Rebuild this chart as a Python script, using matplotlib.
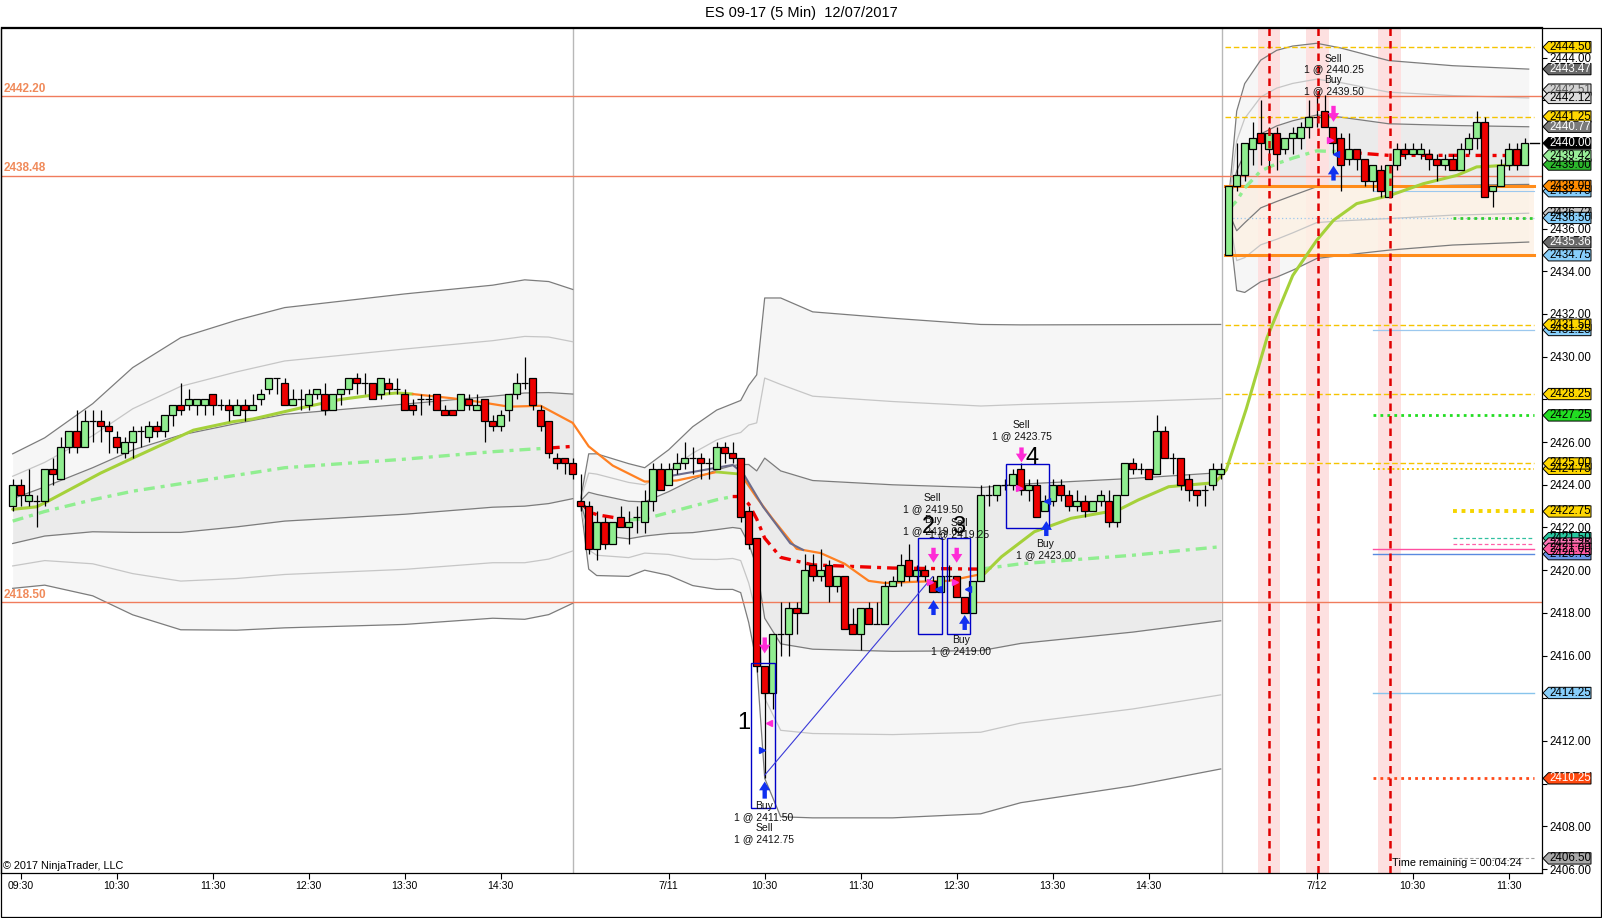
import numpy as np
import matplotlib.pyplot as plt
from matplotlib.patches import Polygon, Rectangle

plt.rcParams['font.family'] = ['Liberation Sans', 'DejaVu Sans']

# ---------------- data (5 min bars, 3 sessions) ----------------
opens = [
    # 7/10
    2423.0, 2424.0, 2423.25, 2423.25, 2423.25, 2424.75, 2424.25, 2425.75, 2426.5, 2425.75,
    2427.0, 2427.0, 2426.75, 2426.25, 2425.5, 2426.0, 2426.5, 2426.25, 2426.75, 2426.5,
    2427.25, 2427.75, 2427.75, 2427.75, 2427.75, 2428.25, 2427.75, 2427.75, 2427.25, 2427.75,
    2427.5, 2428.0, 2428.5, 2429.0, 2428.75, 2427.75, 2428.0, 2427.75, 2428.25, 2428.25,
    2427.5, 2428.25, 2428.5, 2429.0, 2428.75, 2428.75, 2428.25, 2428.75, 2428.5, 2428.25,
    2427.75, 2428.0, 2428.0, 2428.25, 2427.5, 2427.5, 2427.5, 2428.0, 2427.5, 2428.0,
    2427.0, 2426.75, 2427.5, 2428.25, 2428.75, 2429.0, 2427.5, 2427.0, 2425.25, 2425.25, 2425.0,
    # 7/11
    2423.25, 2423.0, 2421.0, 2422.25, 2421.25, 2422.5, 2422.0, 2422.5, 2422.25, 2423.25,
    2424.75, 2424.0, 2424.75, 2425.0, 2425.25, 2425.25, 2425.0, 2424.75, 2425.75, 2425.5,
    2425.25, 2422.75, 2421.5, 2415.5, 2414.25, 2417.0, 2417.0, 2418.25, 2418.0, 2420.25,
    2419.75, 2420.25, 2419.25, 2419.75, 2417.5, 2417.0, 2418.25, 2417.5, 2417.5, 2419.25,
    2419.5, 2420.5, 2419.75, 2420.0, 2419.5, 2419.0, 2419.75, 2419.75, 2418.75, 2418.0,
    2419.5, 2423.5, 2423.5, 2424.0, 2424.0, 2424.75, 2423.75, 2424.0, 2422.75, 2423.25,
    2424.0, 2423.5, 2423.0, 2423.25, 2422.75, 2423.25, 2423.25, 2422.25, 2423.5, 2425.0,
    2424.75, 2424.75, 2424.5, 2426.5, 2425.25, 2425.25, 2424.25, 2423.75, 2423.75, 2424.0, 2424.5,
    # 7/12
    2434.75, 2438.0, 2438.5, 2439.75, 2440.5, 2439.75, 2440.5, 2439.75, 2440.25, 2440.25,
    2440.75, 2441.25, 2441.5, 2440.75, 2440.25, 2439.25, 2439.75, 2439.25, 2438.25, 2438.75,
    2437.5, 2439.0, 2439.75, 2439.5, 2439.5, 2439.5, 2439.25, 2439.0, 2439.25, 2438.75,
    2439.75, 2440.25, 2441.0, 2437.75, 2438.0, 2439.0, 2439.75, 2439.0,
]
highs = [
    2424.25, 2424.25, 2424.75, 2423.5, 2424.75, 2425.25, 2426.25, 2426.5, 2427.5, 2427.5,
    2427.5, 2427.5, 2427.0, 2426.5, 2426.25, 2426.75, 2426.75, 2427.0, 2427.0, 2427.25,
    2427.75, 2428.75, 2428.5, 2428.0, 2428.0, 2428.25, 2428.0, 2428.0, 2428.0, 2428.0,
    2428.25, 2428.5, 2429.0, 2429.0, 2429.0, 2428.5, 2428.5, 2428.5, 2428.5, 2428.75,
    2428.25, 2428.5, 2429.0, 2429.25, 2429.25, 2428.75, 2429.0, 2429.0, 2429.0, 2428.5,
    2428.0, 2428.25, 2428.25, 2428.25, 2427.75, 2427.5, 2428.25, 2428.25, 2428.25, 2428.0,
    2427.25, 2427.5, 2428.25, 2429.25, 2430.0, 2429.0, 2427.75, 2427.0, 2425.5, 2425.25, 2425.25,
    2424.5, 2423.25, 2422.75, 2422.5, 2422.25, 2423.0, 2422.75, 2423.0, 2423.75, 2425.0,
    2425.0, 2425.0, 2425.5, 2426.0, 2425.75, 2425.5, 2425.25, 2426.0, 2426.0, 2426.0,
    2425.25, 2423.0, 2421.5, 2415.5, 2417.0, 2418.5, 2418.5, 2418.5, 2420.75, 2420.75,
    2421.0, 2420.5, 2419.75, 2419.75, 2418.25, 2418.25, 2418.5, 2418.5, 2419.5, 2419.75,
    2420.75, 2421.25, 2420.25, 2420.25, 2419.75, 2419.75, 2420.25, 2419.75, 2418.75, 2419.5,
    2424.0, 2424.0, 2424.0, 2424.25, 2424.75, 2425.0, 2424.25, 2424.25, 2423.5, 2424.25,
    2424.25, 2423.75, 2423.75, 2423.5, 2423.25, 2423.75, 2423.75, 2423.5, 2425.0, 2425.25,
    2425.0, 2424.75, 2427.25, 2426.75, 2425.5, 2425.25, 2424.5, 2423.75, 2424.0, 2425.0, 2425.0,
    2438.0, 2440.0, 2440.0, 2441.0, 2442.0, 2440.75, 2440.75, 2440.25, 2440.75, 2441.0,
    2442.0, 2442.25, 2442.25, 2440.75, 2440.5, 2440.5, 2439.75, 2439.25, 2439.0, 2439.0,
    2439.0, 2440.0, 2440.0, 2440.0, 2440.0, 2439.75, 2439.5, 2439.5, 2439.5, 2440.0,
    2440.5, 2441.5, 2441.25, 2438.0, 2439.25, 2440.0, 2440.0, 2440.25,
]
lows = [
    2422.75, 2423.0, 2423.0, 2422.0, 2423.0, 2424.0, 2424.25, 2425.5, 2425.5, 2425.75,
    2426.0, 2426.0, 2425.5, 2425.5, 2425.25, 2425.25, 2425.75, 2426.0, 2426.25, 2426.25,
    2426.75, 2427.25, 2427.5, 2427.25, 2427.25, 2427.25, 2427.5, 2427.0, 2427.25, 2427.0,
    2427.5, 2427.75, 2428.25, 2428.25, 2427.75, 2427.75, 2427.5, 2427.5, 2428.0, 2427.25,
    2427.5, 2427.75, 2428.25, 2428.25, 2428.25, 2428.0, 2428.0, 2428.25, 2428.25, 2427.5,
    2427.25, 2427.25, 2427.75, 2427.5, 2427.25, 2427.25, 2427.5, 2427.5, 2427.5, 2426.0,
    2426.5, 2426.5, 2427.0, 2428.0, 2428.5, 2427.5, 2426.5, 2425.25, 2424.75, 2424.5, 2424.25,
    2422.75, 2420.75, 2420.5, 2421.0, 2421.25, 2422.0, 2421.25, 2421.75, 2421.75, 2422.75,
    2423.75, 2424.0, 2424.5, 2424.75, 2424.5, 2424.25, 2424.25, 2424.75, 2425.0, 2425.0,
    2422.25, 2421.0, 2415.25, 2410.25, 2413.5, 2416.0, 2416.0, 2417.0, 2418.0, 2419.5,
    2419.5, 2418.5, 2419.0, 2417.25, 2417.0, 2416.25, 2417.5, 2417.5, 2417.5, 2419.25,
    2419.25, 2419.5, 2419.5, 2419.5, 2419.0, 2419.0, 2419.5, 2418.75, 2418.0, 2418.0,
    2419.5, 2423.0, 2423.25, 2423.75, 2423.75, 2423.5, 2423.25, 2422.5, 2422.75, 2423.0,
    2423.25, 2422.75, 2422.75, 2422.5, 2422.75, 2423.0, 2422.0, 2422.0, 2423.5, 2424.5,
    2424.5, 2424.25, 2424.5, 2425.25, 2424.5, 2423.75, 2423.25, 2423.0, 2423.0, 2423.75, 2424.25,
    2434.75, 2437.75, 2438.25, 2439.0, 2439.0, 2438.75, 2438.75, 2439.5, 2439.5, 2439.75,
    2440.25, 2440.75, 2440.75, 2439.5, 2437.75, 2439.0, 2438.75, 2438.0, 2437.75, 2437.5,
    2437.5, 2438.75, 2439.25, 2439.5, 2439.25, 2438.75, 2438.25, 2438.75, 2438.75, 2438.75,
    2439.5, 2439.75, 2437.5, 2437.0, 2438.0, 2438.75, 2438.75, 2439.0,
]
closes = [
    2424.0, 2423.5, 2423.5, 2423.25, 2424.75, 2424.5, 2425.75, 2426.5, 2425.75, 2427.0,
    2427.0, 2426.75, 2426.5, 2425.75, 2426.0, 2426.5, 2426.5, 2426.75, 2426.5, 2427.25,
    2427.75, 2427.5, 2428.0, 2428.0, 2428.0, 2427.75, 2427.75, 2427.5, 2427.75, 2427.5,
    2427.75, 2428.25, 2429.0, 2429.0, 2427.75, 2428.0, 2428.0, 2428.25, 2428.5, 2427.5,
    2428.25, 2428.5, 2429.0, 2428.75, 2428.75, 2428.0, 2429.0, 2428.5, 2428.5, 2427.5,
    2427.5, 2428.0, 2428.0, 2427.5, 2427.25, 2427.25, 2428.25, 2427.75, 2427.75, 2427.0,
    2426.75, 2427.25, 2428.25, 2428.75, 2428.75, 2427.75, 2426.75, 2425.5, 2425.0, 2425.0, 2424.5,
    2423.0, 2421.0, 2422.25, 2421.25, 2422.25, 2422.0, 2422.25, 2422.5, 2423.25, 2424.75,
    2423.75, 2424.75, 2425.0, 2425.25, 2425.25, 2425.0, 2425.0, 2425.75, 2425.5, 2425.25,
    2422.5, 2421.25, 2415.5, 2414.25, 2417.0, 2417.0, 2418.25, 2418.0, 2420.0, 2419.75,
    2420.0, 2419.25, 2419.75, 2417.25, 2417.0, 2418.25, 2417.5, 2417.5, 2419.25, 2419.5,
    2420.25, 2419.75, 2420.0, 2419.75, 2419.0, 2419.75, 2419.75, 2418.75, 2418.0, 2419.5,
    2423.5, 2423.5, 2424.0, 2424.0, 2424.5, 2423.75, 2424.0, 2422.5, 2423.25, 2424.0,
    2423.5, 2423.0, 2423.25, 2422.75, 2423.25, 2423.5, 2422.25, 2423.5, 2425.0, 2424.75,
    2424.75, 2424.25, 2426.5, 2425.25, 2425.25, 2424.0, 2423.75, 2423.5, 2423.75, 2424.75, 2424.75,
    2438.0, 2438.5, 2440.0, 2440.25, 2440.0, 2440.5, 2439.5, 2440.25, 2440.5, 2440.75,
    2441.25, 2441.25, 2440.75, 2440.0, 2439.0, 2439.75, 2439.25, 2438.25, 2439.0, 2437.75,
    2439.0, 2439.75, 2439.5, 2439.75, 2439.75, 2439.25, 2439.0, 2439.25, 2438.75, 2439.75,
    2440.25, 2441.0, 2437.5, 2438.0, 2439.0, 2439.75, 2439.0, 2440.0,
]

tick_pos = [1, 13, 25, 37, 49, 61, 82, 94, 106, 118, 130, 142, 163, 175, 187]
tick_labels = ['09:30', '10:30', '11:30', '12:30', '13:30', '14:30', '7/11',
               '10:30', '11:30', '12:30', '13:30', '14:30', '7/12', '10:30', '11:30']
session_breaks = [70.05, 151.1]

# session VWAP and its standard deviation, read at knots
b1_x = [0, 4, 10, 15, 21, 28, 34, 49, 60, 64, 67, 70]
b1_mid = [2422.3, 2422.75, 2423.3, 2423.7, 2424.05, 2424.45, 2424.8, 2425.2, 2425.55, 2425.65, 2425.72, 2425.8]
b1_sd = [1.05, 1.15, 1.5, 1.93, 2.28, 2.42, 2.5, 2.58, 2.6, 2.65, 2.6, 2.45]

b2_x = [71, 72, 73, 77, 79, 82, 85, 88, 90, 91, 92, 93, 94, 96, 100, 110, 121, 126, 140, 151]
b2_mid = [2423.2, 2422.75, 2422.6, 2422.35, 2422.4, 2422.7, 2423.0, 2423.3, 2423.45, 2423.45,
          2423.1, 2422.4, 2421.5, 2420.6, 2420.25, 2420.1, 2420.05, 2420.3, 2420.7, 2421.1]
b2_sd = [0.05, 0.9, 0.95, 0.88, 0.8, 0.98, 1.24, 1.4, 1.45, 1.5, 1.85, 2.25, 3.75, 4.05,
         3.95, 3.9, 3.82, 3.73, 3.6, 3.47]

b3_x = [152, 153, 154, 156, 158, 160, 163, 166, 172, 180, 189.5]
b3_mid = [2436.9, 2437.3, 2437.9, 2438.7, 2439.04, 2439.3, 2439.64, 2439.6, 2439.43, 2439.43, 2439.42]
b3_sd = [0.15, 1.4, 1.63, 1.73, 1.77, 1.75, 1.68, 1.62, 1.48, 1.4, 1.35]

# moving average line
ema_x = [0, 3, 4.25, 11, 15, 22.6, 27.6, 30, 36, 41, 45, 48, 50, 55, 58, 62, 66, 70, 72, 75,
         79, 83, 88, 91, 93, 95, 98, 101, 104, 107, 109, 113, 117, 121.5, 123.6, 127.7, 132.3,
         138.2, 140.7, 144.5, 150.3, 151.7, 154.2, 156.8, 160, 163, 165.1, 168, 172.2, 176.3,
         180.5, 183, 184.7, 189.3]
ema_y = [2422.85, 2422.97, 2423.2, 2424.55, 2425.25, 2426.56, 2426.96, 2427.08, 2427.6, 2428.0,
         2428.2, 2428.3, 2428.25, 2428.05, 2427.9, 2427.66, 2427.7, 2426.9, 2425.8, 2424.9,
         2424.15, 2424.2, 2424.6, 2424.5, 2423.4, 2422.4, 2421.0, 2420.8, 2420.3, 2419.5,
         2419.4, 2419.46, 2419.5, 2419.85, 2420.63, 2421.8, 2422.43, 2422.82, 2423.29, 2423.91,
         2424.1, 2424.7, 2427.56, 2430.9, 2433.8, 2435.45, 2436.39, 2437.17, 2437.56, 2438.1,
         2438.49, 2438.89, 2438.92, 2439.04]
ma2_x = [82, 88, 90, 91.3, 93.8, 97.2, 98.8]
ma2_y = [2424.4, 2424.8, 2424.93, 2424.54, 2422.97, 2421.26, 2420.95]

pivot_levels = [2442.20, 2438.48, 2418.50]
level_prices = [2444.50, 2441.25, 2438.00, 2434.75, 2437.75, 2436.50, 2436.50, 2431.50, 2431.25,
                2428.25, 2427.25, 2425.00, 2424.75, 2422.75, 2421.50, 2421.25, 2421.00, 2420.75,
                2414.25, 2410.25, 2406.50]
tag_prices = [2444.50, 2443.47, 2442.51, 2442.12, 2441.25, 2440.77, 2440.00, 2439.00, 2439.42,
              2437.75, 2438.00, 2436.72, 2436.50, 2435.36, 2434.75, 2431.25, 2431.50, 2428.25,
              2427.25, 2424.75, 2425.00, 2422.75, 2420.75, 2421.50, 2421.25, 2421.00, 2414.25,
              2410.25, 2406.50]
signal_bars = [157, 163.1, 172.1]

# ---------------- figure ----------------
W, H = 1602.0, 918.0
fig = plt.figure(figsize=(W / 100, H / 100), dpi=100)
ax = fig.add_axes([1 / W, (H - 873) / H, 1540.5 / W, (873 - 27.5) / H])
ylo, yhi = 2405.817, 2445.419
ax.set_xlim(-1.4625, 191.1)
ax.set_ylim(ylo, yhi)

green, red, orange = '#90ee90', '#ee0000', '#ff8022'


def pick(xs, ys, a, b):
    xs = np.array(xs, float)
    ys = np.array(ys, float)
    m = (xs >= a) & (xs <= b)
    return xs[m], ys[m]


# vwap bands
for bx, bm, bs in [(b1_x, b1_mid, b1_sd), (b2_x, b2_mid, b2_sd), (b3_x, b3_mid, b3_sd)]:
    bx = np.array(bx, float)
    m = np.array(bm)
    s = np.array(bs)
    ax.fill_between(bx, m + 3 * s, m - 3 * s, color='#f6f6f6', lw=0, zorder=1)
    ax.fill_between(bx, m + s, m - s, color='#ebebeb', lw=0, zorder=1.1)
    for k, col in [(3, '#7c7c7c'), (2, '#c6c6c6'), (1, '#7c7c7c')]:
        ax.plot(bx, m + k * s, color=col, lw=0.9, zorder=2)
        ax.plot(bx, m - k * s, color=col, lw=0.9, zorder=2)

# session separators
for sb in session_breaks:
    ax.axvline(sb, color='#b8b8b8', lw=1, zorder=1.5)

# signal shading + opening range fill
for sx in signal_bars:
    ax.axvspan(sx - 1.4, sx + 1.4, color='#fde0e0', lw=0, zorder=1.6)
ax.fill_between([151.5, 190.1], 2434.75, 2438.0, color='#fdf1e4', alpha=0.8, lw=0, zorder=1.7)

# pivot lines across the chart
for pv in pivot_levels:
    ax.axhline(pv, color='#f07c5c', lw=1, zorder=2.2)
    ax.text(-1.1, pv + 0.06, f'{pv:.2f}', color='#f08a5a', fontsize=8.5, fontweight='bold',
            ha='left', va='bottom', zorder=9)

# day 3 levels
lvl_style = [
    (151.5, '#f5c400', (0, (4, 2)), 1.0), (151.5, '#f5c400', (0, (4, 2)), 1.0),
    (151.5, '#ff8c1a', '-', 2.2), (151.5, '#ff8c1a', '-', 2.2),
    (170, '#9cc8ee', '-', 0.8), (152, '#9cc8ee', (0, (1, 2)), 0.9),
    (180, '#33cc33', (0, (1, 1.5)), 2.0), (151.5, '#f5c400', (0, (4, 2)), 1.0),
    (170, '#9cc8ee', '-', 0.9), (151.5, '#f5c400', (0, (4, 2)), 1.0),
    (170, '#22dd22', (0, (1, 1.5)), 2.0), (151.5, '#f5c400', (0, (4, 2)), 1.0),
    (170, '#f5c400', (0, (1, 1.5)), 1.4), (180, '#f5d400', (0, (1, 1.2)), 2.8),
    (180, '#30c0a0', (0, (3, 2)), 0.9), (180, '#ff60a8', (0, (3, 2)), 0.9),
    (170, '#ff4fa0', '-', 1.0), (170, '#5a8ae0', '-', 1.0),
    (170, '#88c4ec', '-', 1.0), (170, '#ff4a1a', (0, (1, 1.5)), 2.0),
    (180, '#a0a0a0', (0, (3, 2)), 0.8),
]
for p, (x0, col, ls, lw) in zip(level_prices, lvl_style):
    ax.plot([x0, 190.1], [p, p], color=col, ls=ls, lw=lw, zorder=3)

# vwap line, coloured by side
vwap_ls = (0, (3.3, 1.8, 1.2, 1.8))
for bx, bm, segs in [(b1_x, b1_mid, [(0, 67, green), (67, 70, red)]),
                     (b2_x, b2_mid, [(71, 77, red), (77, 90, green), (90, 121, red), (121, 151, green)]),
                     (b3_x, b3_mid, [(152, 166, green), (166, 190, red)])]:
    for a, b, col in segs:
        sx, sy = pick(bx, bm, a, b)
        ax.plot(sx, sy, color=col, lw=2.4, ls=vwap_ls, zorder=4)

# moving averages
for a, b, col, lw in [(0, 50, '#a5d13a', 2.2), (50, 88, orange, 1.6), (88, 91, '#a5d13a', 2.0),
                      (91, 121.5, orange, 1.6), (121.5, 190, '#a5d13a', 2.2)]:
    sx, sy = pick(ema_x, ema_y, a, b)
    ax.plot(sx, sy, color=col, lw=lw, zorder=4.2, solid_capstyle='round')
ax.plot(ma2_x, ma2_y, color='#6c6c8c', lw=1.5, zorder=4.3)

# candles
o = np.array(opens)
h = np.array(highs)
l = np.array(lows)
c = np.array(closes)
x = np.arange(len(o))
up = c >= o
ax.vlines(x, l, h, color='black', lw=0.9, zorder=5)
bot = np.minimum(o, c)
hgt = np.abs(c - o)
ax.bar(x[up], hgt[up], bottom=bot[up], width=0.82, color=green, edgecolor='black', lw=0.9, zorder=6)
ax.bar(x[~up], hgt[~up], bottom=bot[~up], width=0.82, color=red, edgecolor='black', lw=0.9, zorder=6)
ax.plot([189.7, 190.8], [2440.0, 2440.0], color='black', lw=1, zorder=6)

# signal lines
for sx in signal_bars:
    ax.axvline(sx, color='#e00000', lw=1.8, ls=(0, (3, 2)), zorder=8)

# trades
blue = '#0000c8'
for x0, x1, y0, y1 in [(92.3, 95.3, 2408.85, 2415.67), (113.1, 116.2, 2416.99, 2421.49),
                       (116.8, 119.7, 2416.99, 2421.49), (124.1, 129.5, 2421.96, 2424.97)]:
    ax.add_patch(Rectangle((x0, y0), x1 - x0, y1 - y0, fill=False, ec=blue, lw=1, zorder=7))
ax.plot([94.0, 115.0], [2410.4, 2419.7], color='#3a3ad8', lw=0.8, zorder=7)

arrow_kw = dict(arrowstyle='simple,head_width=0.9,head_length=0.7,tail_width=0.35',
                lw=0, shrinkA=0, shrinkB=0, mutation_scale=9)
for ax_, y_t, y_h in [(94.0, 2416.85, 2416.1), (115.1, 2421.05, 2420.35), (118.0, 2421.05, 2420.35),
                      (126.1, 2425.75, 2425.05), (165.1, 2441.75, 2441.0)]:
    ax.annotate('', xy=(ax_, y_h), xytext=(ax_, y_t), arrowprops=dict(color='#ff2bd6', **arrow_kw), zorder=9)
for ax_, y_t, y_h in [(94.0, 2409.3, 2410.1), (115.1, 2417.9, 2418.6), (119.0, 2417.2, 2417.9),
                      (129.2, 2421.6, 2422.3), (165.1, 2438.25, 2438.95)]:
    ax.annotate('', xy=(ax_, y_h), xytext=(ax_, y_t), arrowprops=dict(color='#1030f0', **arrow_kw), zorder=9)
for mx, my, mk, col in [(94.5, 2412.86, '<', '#ff2bd6'), (93.7, 2411.6, '>', '#1030f0'),
                        (114.7, 2419.46, '>', '#ff2bd6'), (115.6, 2419.1, '<', '#1030f0'),
                        (117.8, 2419.46, '>', '#ff2bd6'), (119.4, 2419.1, '<', '#1030f0'),
                        (125.8, 2423.84, '>', '#ff2bd6'), (129.3, 2423.25, '<', '#1030f0'),
                        (164.7, 2440.13, '>', '#ff2bd6'), (165.4, 2439.5, '<', '#1030f0')]:
    ax.plot(mx, my, marker=mk, ms=4.5, color=col, mec=col, zorder=9)

tkw = dict(fontsize=7.5, ha='center', va='top', linespacing=1.12, zorder=10, color='#111111')
ax.text(93.9, 2409.2, 'Buy\n1 @ 2411.50\nSell\n1 @ 2412.75', **tkw)
ax.text(115.0, 2423.6, 'Sell\n1 @ 2419.50\nBuy\n1 @ 2419.00', **tkw)
ax.text(118.3, 2422.45, 'Sell\n1 @ 2419.25', **tkw)
ax.text(118.5, 2416.95, 'Buy\n1 @ 2419.00', **tkw)
ax.text(126.1, 2427.05, 'Sell\n1 @ 2423.75', **tkw)
ax.text(129.1, 2421.45, 'Buy\n1 @ 2423.00', **tkw)
ax.text(165.1, 2444.2, 'Sell\n1 @ 2440.25\nBuy\n1 @ 2439.50', **tkw)
for lab, lx, ly in [('1', 91.4, 2412.85), ('2', 114.5, 2422.0), ('3', 118.3, 2422.0), ('4', 127.4, 2425.27)]:
    ax.text(lx, ly, lab, fontsize=17, ha='center', va='center', color='black', zorder=10)

ax.text(172.4, 2406.3, 'Time remaining = 00:04:24', fontsize=7.8, ha='left', va='center', zorder=10)

# axes styling; price labels hidden under a tag are left out
ax.yaxis.tick_right()
yt = np.arange(2406, 2445, 2)
ax.set_yticks(yt)
ax.set_yticklabels(['' if min(abs(v - t) for t in tag_prices) < 0.3 else f'{v:.2f}' for v in yt])
ax.set_xticks(tick_pos)
ax.set_xticklabels(tick_labels)
ax.tick_params(axis='y', direction='out', length=3.8, width=0.8, pad=1.6, labelsize=8.3)
ax.tick_params(axis='x', direction='out', length=4.3, width=0.8, pad=1.8, labelsize=7.6)
for sp in ax.spines.values():
    sp.set_color('black')
    sp.set_linewidth(0.9)

# price tags on the right scale
axr = fig.add_axes([1541.5 / W, (H - 873) / H, 59.5 / W, (873 - 27.5) / H])
axr.set_xlim(0, 59.5)
axr.set_ylim(ylo, yhi)
axr.axis('off')
tag_style = [
    ('#ffd700', 'k'), ('#686868', 'w'), ('#d2d2d2', '#555555'), ('#dcdcdc', 'k'), ('#ffd700', 'k'),
    ('#7a7a7a', 'w'), ('#000000', 'w'), ('#2cb82c', 'k'), ('#98ee98', 'k'), ('#87cefa', 'k'),
    ('#ff8c00', 'k'), ('#c8c8c8', 'k'), ('#87cefa', 'k'), ('#686868', 'w'), ('#87cefa', 'k'),
    ('#87cefa', 'k'), ('#ffd700', 'k'), ('#ffd700', 'k'), ('#22dd22', 'k'), ('#ffd700', 'k'),
    ('#ffd700', 'k'), ('#ffd700', 'k'), ('#6a96e6', 'k'), ('#28c8a0', 'k'), ('#ff78b8', 'k'),
    ('#ff5aa0', 'k'), ('#87cefa', 'k'), ('#ff4a10', 'w'), ('#a8a8a8', 'k'),
]
hh = 0.265
for p, (fc, tc) in zip(tag_prices, tag_style):
    axr.add_patch(Polygon([(1.5, p), (7.0, p + hh), (49.5, p + hh), (49.5, p - hh), (7.0, p - hh)],
                          closed=True, fc=fc, ec='black', lw=0.7))
    axr.text(8.0, p, f'{p:.2f}', fontsize=8.3, color=tc, va='center', ha='left')

# title, copyright, frame
fig.text(801 / W, 1 - 13 / H, 'ES 09-17 (5 Min)  12/07/2017', fontsize=10.5, ha='center', va='center')
fig.text(3 / W, 1 - 866 / H, '\u00a9 2017 NinjaTrader, LLC', fontsize=7.8, ha='left', va='center')
fig.add_artist(Rectangle((0.5 / W, 0.8 / H), 1600.3 / W, (918 - 27.5 - 0.8) / H,
                         transform=fig.transFigure, fill=False, ec='black', lw=0.9))

fig.savefig('out.png', dpi=100, facecolor='white')
